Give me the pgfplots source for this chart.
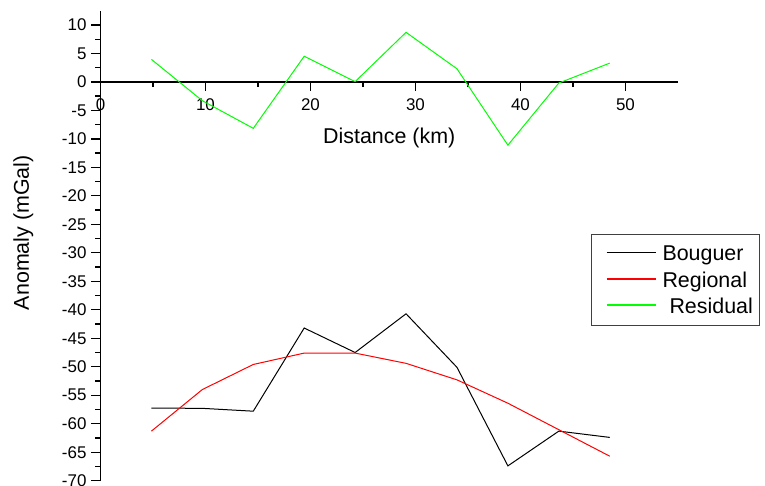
\documentclass[border=0pt]{standalone}
\usepackage{fontspec}
\setmainfont{Liberation Sans}
\usepackage{pgfplots}
\pgfplotsset{compat=1.18}
\begin{document}
\begin{tikzpicture}
\begin{axis}[
  at={(100.5bp,5.3bp)}, anchor=south west,
  scale only axis, width=577.5bp, height=470bp,
  xmin=0, xmax=55, ymin=-70, ymax=12.5,
  axis x line*=middle, axis y line*=left,
  hide obscured x ticks=false, hide obscured y ticks=false,
  axis line style={line width=1.5bp},
  xtick={0,10,20,30,40,50}, xticklabels={0,10,20,30,40,50},
  ytick={-70,-65,...,10},
  yticklabels={-70,-65,-60,-55,-50,-45,-40,-35,-30,-25,-20,-15,-10,-5,0,5,10},
  minor x tick num=1, minor y tick num=1,
  tick align=outside,
  major tick length=9bp, minor tick length=5bp,
  every tick/.style={line width=1.3bp, black},
  tick label style={font=\fontsize{17}{18}\selectfont},
  xticklabel style={yshift=-4bp},
  yticklabel style={xshift=-1.5bp},
  xlabel={Distance (km)}, ylabel={Anomaly (mGal)},
  label style={font=\fontsize{21.5}{23}\selectfont},
  xlabel style={at={(axis description cs:0.5,0.7294)}, anchor=center},
  ylabel style={at={(axis description cs:-0.1335,0.5277)}, anchor=center},
  legend style={at={(axis description cs:0.8494,0.5249)}, anchor=north west,
    draw=black!75, line width=1bp, font=\fontsize{21.5}{23}\selectfont,
    inner xsep=5bp, inner ysep=6bp, row sep=5bp,
    nodes={text height=15bp, text depth=4.5bp, inner ysep=1bp}},
  legend cell align=left,
  legend image code/.code={\path[draw=none,fill=none] (0bp,-3bp) rectangle (64bp,3bp);
    \draw[#1, line width=1.6bp] (10bp,3bp) -- (59bp,3bp);},
]
\addplot[black, line width=1bp,
  legend image code/.code={\path[draw=none,fill=none] (0bp,-3bp) rectangle (64bp,15bp);
    \draw[##1, line width=1.2bp] (10bp,3bp) -- (59bp,3bp);}] coordinates {
(4.85,-57.25) (9.7,-57.3) (14.55,-57.8) (19.4,-43.2) (24.25,-47.5)
(29.1,-40.7) (33.95,-50.1) (38.8,-67.4) (43.65,-61.3) (48.5,-62.4)};
\addlegendentry{Bouguer}
\addplot[red, line width=1bp] coordinates {
(4.85,-61.3) (9.7,-54.0) (14.55,-49.6) (19.4,-47.6) (24.25,-47.6)
(29.1,-49.4) (33.95,-52.3) (38.8,-56.4) (43.65,-61.05) (48.5,-65.7)};
\addlegendentry{Regional}
\addplot[green, line width=1bp,
  legend image code/.code={\path[draw=none,fill=none] (0bp,-3bp) rectangle (64bp,3bp);
    \draw[draw=green, line width=2bp] (10bp,3.5bp) -- (59bp,3.5bp);}] coordinates {
(4.85,3.95) (9.7,-3.3) (14.55,-8.15) (19.4,4.5) (24.25,0.05)
(29.1,8.7) (33.95,2.3) (38.8,-11.1) (43.65,-0.2) (48.5,3.3)};
\addlegendentry{\hspace{7bp}Residual}
\end{axis}
\pgfresetboundingbox
\path[use as bounding box] (0,0) rectangle (765bp,486bp);
\end{tikzpicture}
\end{document}
